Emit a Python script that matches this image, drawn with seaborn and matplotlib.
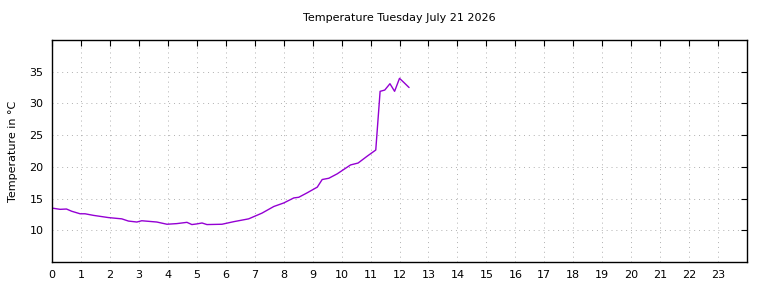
import matplotlib
matplotlib.use("Agg")
import matplotlib.pyplot as plt
import seaborn as sns
import pandas as pd

# hour of day (decimal) and temperature in deg C
hours = [0.0, 0.28, 0.5, 0.68, 0.97, 1.14, 1.43, 1.95, 2.41, 2.64, 2.93, 3.1,
         3.62, 3.97, 4.31, 4.66, 4.83, 5.0, 5.18, 5.35, 5.87, 6.27, 6.79,
         7.25, 7.66, 8.0, 8.35, 8.52, 8.81, 9.16, 9.33, 9.56, 9.85, 10.31,
         10.57, 10.89, 11.18, 11.33, 11.49, 11.67, 11.83, 12.0, 12.15, 12.33]
temps = [13.5, 13.3, 13.35, 13.0, 12.6, 12.6, 12.35, 12.0, 11.8, 11.45, 11.3, 11.5,
         11.3, 10.95, 11.05, 11.25, 10.9, 11.0, 11.15, 10.9, 10.95, 11.35, 11.8,
         12.7, 13.75, 14.3, 15.1, 15.2, 15.9, 16.8, 18.0, 18.2, 18.9, 20.3,
         20.6, 21.7, 22.65, 31.9, 32.1, 33.1, 31.9, 33.95, 33.3, 32.5]
hour_ticks = list(range(0, 24))
temp_ticks = [10, 15, 20, 25, 30, 35]

df = pd.DataFrame({"hour": hours, "temp": temps})

sns.set_style("white")
plt.rcParams["font.family"] = ["DejaVu Sans"]

fig = plt.figure(figsize=(7.68, 2.88), dpi=100)
ax = fig.add_axes([0.0677, 0.0903, 0.905, 0.771])

sns.lineplot(data=df, x="hour", y="temp", color="#9400D3", linewidth=1.0, ax=ax)

ax.set_xlim(0, 24)
ax.set_ylim(5, 40)
ax.set_xticks(hour_ticks)
ax.set_yticks(temp_ticks)
ax.tick_params(direction="in", length=4, width=0.8, top=True, right=True,
               labelsize=8, pad=6, colors="black")
ax.grid(True, linestyle=(0, (1, 4)), color="#b0b0b0", linewidth=0.7)
for s in ax.spines.values():
    s.set_color("black")
    s.set_linewidth(1.0)

ax.set_xlabel("")
ax.set_ylabel("Temperature in °C", fontsize=8, labelpad=8, color="black")
ax.set_title("Temperature Tuesday July 21 2026", fontsize=8, pad=14, color="black")

fig.savefig("out.png", dpi=100)
